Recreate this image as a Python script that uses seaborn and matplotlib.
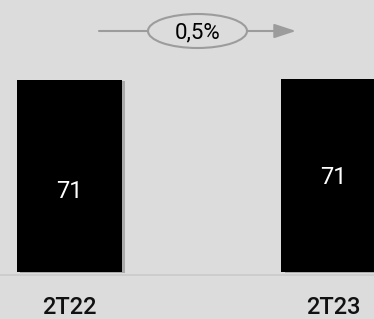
import matplotlib
matplotlib.use("Agg")
import matplotlib.pyplot as plt
import matplotlib.patheffects as pe
from matplotlib.patches import Ellipse
import seaborn as sns
import pandas as pd

categories = ["2T22", "2T23"]
values = [70.8, 71.2]
value_labels = ["71", "71"]
growth_label = "0,5%"

sns.set_theme(style="white")
plt.rcParams["font.family"] = ["Roboto", "DejaVu Sans"]

BG = "#dcdcdc"
W, H, DPI = 374, 319, 100
fig = plt.figure(figsize=(W / DPI, H / DPI), dpi=DPI, facecolor=BG)
ax = fig.add_axes([0, 0, 1, 1])
ax.set_facecolor(BG)

df = pd.DataFrame({"cat": categories, "val": values})
sns.barplot(data=df, x="cat", y="val", color="black", width=0.398,
            saturation=1, ax=ax, zorder=3, linewidth=0, edgecolor="black")
for p in ax.patches:
    p.set_path_effects([pe.SimplePatchShadow(offset=(2.5, -1), shadow_rgbFace="#8a8a8a", alpha=0.6),
                        pe.Normal()])

ax.set_xlim(-0.263, 1.153)
ax.set_ylim(-17.33, 100.3)
for s in ax.spines.values():
    s.set_visible(False)
ax.set_xticks([])
ax.set_yticks([])
ax.set_xlabel("")
ax.set_ylabel("")

# baseline
ax.axhline(-1.2, color="#cbcbcb", lw=1.2, zorder=1)

# value labels inside bars
label_y = [27.3, 32.4]
for i, (lab, ly) in enumerate(zip(value_labels, label_y)):
    ax.text(i, ly, lab, color="white", ha="center", va="baseline", fontsize=17, zorder=5)

# category labels
for i, c in enumerate(categories):
    ax.text(i, -15.6, c, color="#111111", ha="center", va="baseline", fontsize=17,
            fontweight="medium", zorder=5)

# growth arrow with ellipse
gray = "#9c9c9c"
ty = 1 - 31 / H
ax.plot([99 / W, 148 / W], [ty, ty], color=gray, lw=1.5, transform=ax.transAxes, zorder=4)
ax.add_patch(Ellipse((197.5 / W, ty), 99 / W, 34 / H, transform=ax.transAxes,
                     facecolor="none", edgecolor=gray, lw=1.5, zorder=4))
ax.annotate("", xy=(296 / W, ty), xytext=(247 / W, ty), xycoords="axes fraction",
            textcoords="axes fraction",
            arrowprops=dict(arrowstyle="-|>,head_length=1.1,head_width=0.36", color=gray, lw=1.5,
                            shrinkA=0, shrinkB=0),
            zorder=4)
ax.text(197.5 / W, 1 - 38 / H, growth_label, transform=ax.transAxes, ha="center", va="baseline",
        fontsize=16, color="black", zorder=5)

fig.savefig("out.png", dpi=DPI, facecolor=BG)
